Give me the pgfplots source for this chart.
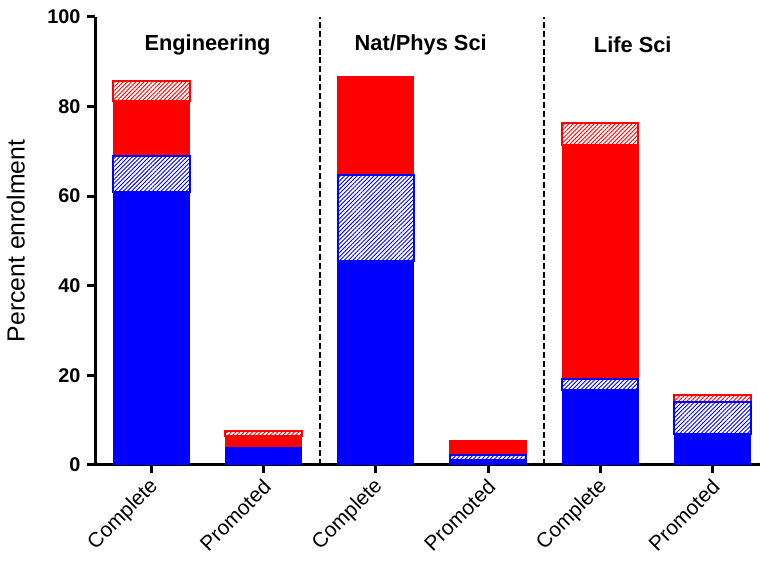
\documentclass[border=0pt]{standalone}
\usepackage{pgfplots}
\pgfplotsset{compat=1.18}
\usepackage{pgfplotstable}
\usetikzlibrary{patterns.meta}
\usepackage{fontspec}
\setmainfont{Liberation Sans}
\definecolor{pblue}{RGB}{0,0,255}
\definecolor{pred}{RGB}{255,0,0}

% stacked segments per bar (percent enrolment)
\pgfplotstableread{
x bsolid bhatch rsolid rhatch
0 61.0 7.9 12.4 4.4
1 3.8 0.0 2.7 1.0
2 45.4 19.3 21.9 0.0
3 1.0 1.2 3.3 0.0
4 16.6 2.5 52.2 5.0
5 6.8 7.2 0.0 1.6
}\enrol

\begin{document}
\begin{tikzpicture}
\begin{axis}[
  x=56.6pt, y=2.26pt,
  xmin=-0.5, xmax=5.42, ymin=0, ymax=100,
  ybar stacked, bar width=0.68,
  axis lines*=left,
  axis line style={line width=1.5pt},
  tick style={line width=1.5pt, black},
  major tick length=4pt,
  tick align=outside,
  xtick=data,
  xticklabels={Complete,Promoted,Complete,Promoted,Complete,Promoted},
  xticklabel style={rotate=45, anchor=east, yshift=-5pt, xshift=1pt, font=\fontsize{10.5}{12}\selectfont},
  ytick={0,20,...,100},
  /pgf/number format/assume math mode=true,
  yticklabel style={font=\bfseries\fontsize{10}{12}\selectfont},
  ylabel={Percent enrolment},
  ylabel style={font=\fontsize{12.5}{14}\selectfont, yshift=4.5pt},
  clip=false,
]
\addplot[fill=pblue, draw=pblue, line width=0.5pt] table[x=x,y=bsolid]{\enrol};
\addplot[pattern={Lines[angle=45,distance=1.5pt,line width=0.45pt]}, pattern color=pblue, draw=pblue, line width=1pt] table[x=x,y=bhatch]{\enrol};
\addplot[fill=pred, draw=pred, line width=0.5pt] table[x=x,y=rsolid]{\enrol};
\addplot[pattern={Lines[angle=45,distance=1.5pt,line width=0.45pt]}, pattern color=pred, draw=pred, line width=1pt] table[x=x,y=rhatch]{\enrol};

\draw[line width=1.1pt, dash pattern=on 3pt off 1.5pt] (axis cs:1.5,0) -- (axis cs:1.5,100);
\draw[line width=1.1pt, dash pattern=on 3pt off 1.5pt] (axis cs:3.5,0) -- (axis cs:3.5,100);
\node[font=\bfseries\fontsize{11}{13}\selectfont] at (axis cs:0.5,93.8) {Engineering};
\node[font=\bfseries\fontsize{11}{13}\selectfont] at (axis cs:2.4,93.8) {Nat/Phys Sci};
\node[font=\bfseries\fontsize{11}{13}\selectfont] at (axis cs:4.29,93.8) {Life Sci};
\path (rel axis cs:0,1) -- ++(0,8.5pt);
\end{axis}
\end{tikzpicture}
\end{document}
